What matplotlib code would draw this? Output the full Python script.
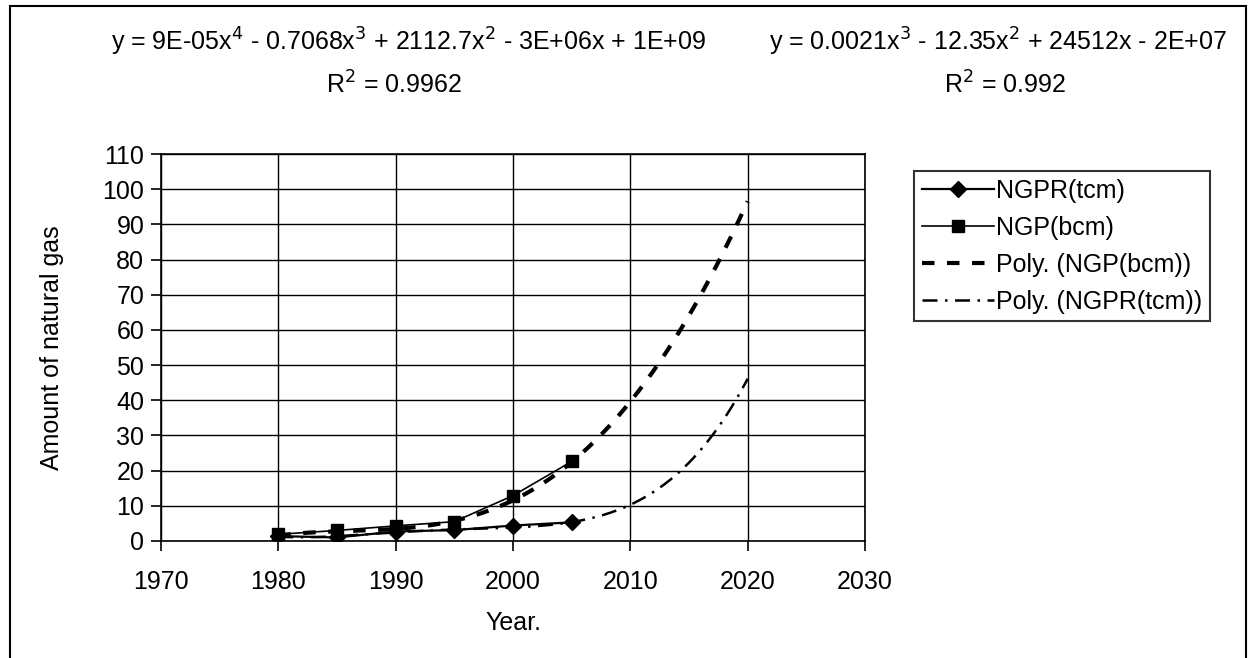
import numpy as np
import matplotlib
matplotlib.use("Agg")
import matplotlib.pyplot as plt
from matplotlib.patches import Rectangle

plt.rcParams['font.family'] = ['Liberation Sans', 'DejaVu Sans']

# Observed values (every five years)
years = [1980, 1985, 1990, 1995, 2000, 2005]
ngpr_tcm = [1.4, 1.0, 2.7, 3.1, 4.4, 5.3]
ngp_bcm = [1.9, 3.0, 4.3, 5.5, 12.9, 22.6]

# Trendline values (with forecast to 2020)
trend_years = [1980, 1985, 1990, 1995, 2000, 2005, 2008, 2010, 2012,
               2014, 2016, 2018, 2020]
ngp_trend = [1.6, 2.6, 3.7, 5.3, 12.0, 22.5, 32.0, 39.5, 48.0,
             58.5, 70.0, 83.5, 96.0]
ngpr_trend = [1.2, 1.5, 2.4, 3.1, 4.0, 5.4, 7.8, 10.3, 13.8,
              19.0, 26.0, 35.0, 46.0]

eq_ngp = "y = 9E-05x$^4$ - 0.7068x$^3$ + 2112.7x$^2$ - 3E+06x + 1E+09"
r2_ngp = "R$^2$ = 0.9962"
eq_ngpr = "y = 0.0021x$^3$ - 12.35x$^2$ + 24512x - 2E+07"
r2_ngpr = "R$^2$ = 0.992"

x_ticks = [1970, 1980, 1990, 2000, 2010, 2020, 2030]
y_ticks = list(range(0, 111, 10))

FS = 18
W, H = 1250, 658
fig = plt.figure(figsize=(W / 100, H / 100), dpi=100)
fig.patch.set_facecolor('white')

# Chart-area border
fig.add_artist(Rectangle((10 / W, -0.01), 1236 / W, 1 - 6 / H + 0.01,
                         transform=fig.transFigure, fill=False,
                         edgecolor='black', linewidth=1.5))

ax = fig.add_axes([161 / W, 1 - 541 / H, 704 / W, 387 / H])
ax.set_xlim(x_ticks[0], x_ticks[-1])
ax.set_ylim(y_ticks[0], y_ticks[-1])
ax.set_xticks(x_ticks)
ax.set_yticks(y_ticks)
ax.grid(True, color='black', linewidth=1.0)
ax.set_axisbelow(True)
for s in ax.spines.values():
    s.set_color('black')
    s.set_linewidth(1.2)
ax.tick_params(axis='both', direction='out', length=7, width=1.2,
               labelsize=FS, colors='black', pad=5)
ax.tick_params(axis='x', pad=14)

# smooth polynomial curves through the trendline values
xs = np.linspace(trend_years[0], trend_years[-1], 400)
ty = np.array(trend_years, dtype=float) - 2000
c_ngp = np.polyfit(ty, ngp_trend, 4)
c_ngpr = np.polyfit(ty, ngpr_trend, 4)

l1, = ax.plot(years, ngpr_tcm, color='black', linewidth=1.6, marker='D',
              markersize=8.5, label='NGPR(tcm)', zorder=4)
l2, = ax.plot(years, ngp_bcm, color='black', linewidth=1.2, marker='s',
              markersize=8.5, label='NGP(bcm)', zorder=4)
l3, = ax.plot(xs, np.polyval(c_ngp, xs - 2000), color='black', linewidth=3,
              linestyle=(0, (3, 3)), label='Poly. (NGP(bcm))', zorder=3)
l4, = ax.plot(xs, np.polyval(c_ngpr, xs - 2000), color='black', linewidth=1.8,
              linestyle=(0, (6, 3, 1, 3)), label='Poly. (NGPR(tcm))',
              zorder=3)

ax.set_xlabel('Year.', fontsize=FS, labelpad=12)
ax.set_ylabel('Amount of natural gas', fontsize=FS, labelpad=28)

leg = fig.legend(handles=[l1, l2, l3, l4], loc='upper left',
                 bbox_to_anchor=(914 / W, 1 - 171 / H), fontsize=FS,
                 frameon=True, fancybox=False, edgecolor='black',
                 handlelength=2.9, handletextpad=0.1, labelspacing=0.52,
                 borderpad=0.3, borderaxespad=0)
leg.get_frame().set_linewidth(1.5)

fig.text(409 / W, 1 - 42 / H, eq_ngp, ha='center', va='center', fontsize=FS)
fig.text(394 / W, 1 - 85 / H, r2_ngp, ha='center', va='center', fontsize=FS)
fig.text(998 / W, 1 - 42 / H, eq_ngpr, ha='center', va='center', fontsize=FS)
fig.text(1005 / W, 1 - 85 / H, r2_ngpr, ha='center', va='center', fontsize=FS)

fig.savefig('out.png', dpi=100)
